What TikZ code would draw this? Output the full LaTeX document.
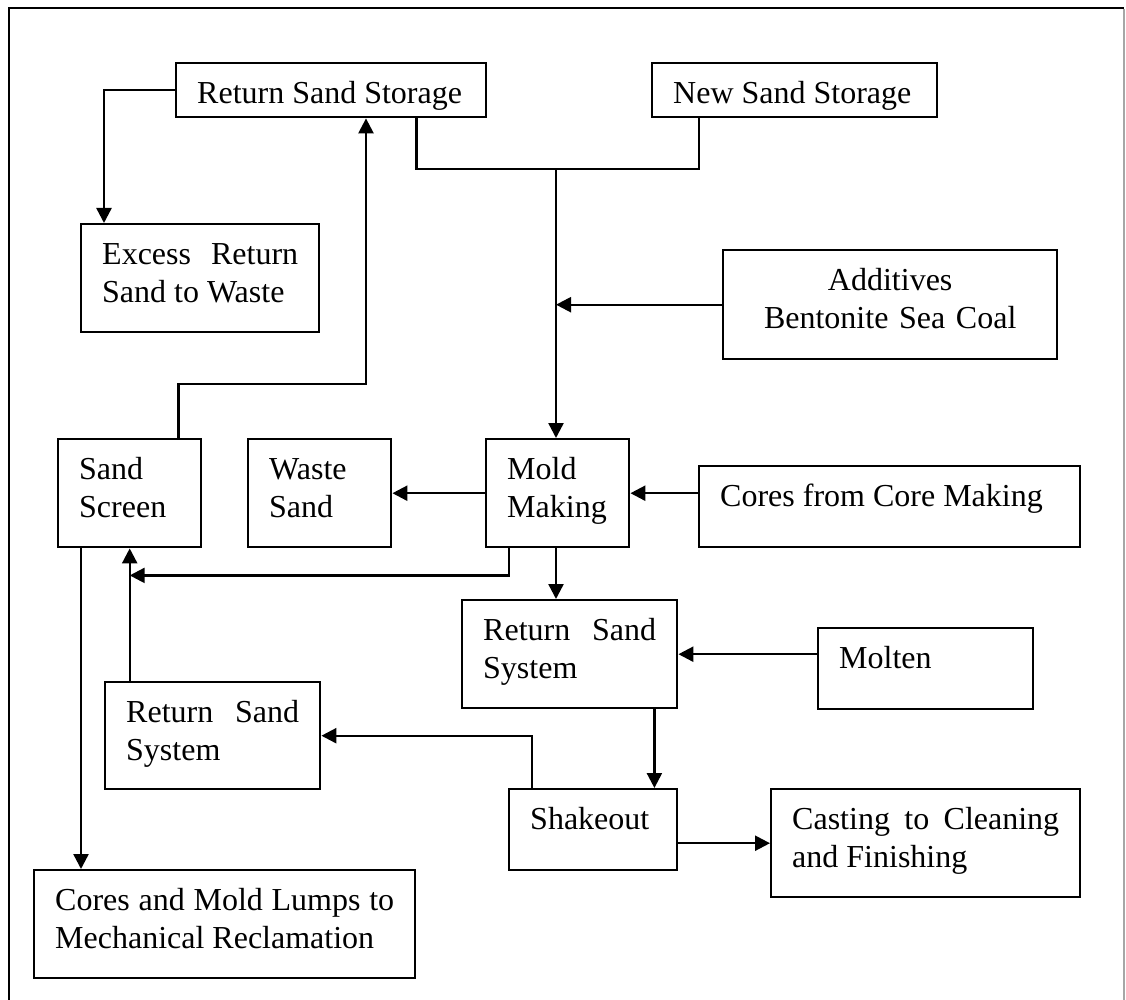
\documentclass[tikz,border=0pt]{standalone}
\usepackage{fontspec}
\setmainfont{Liberation Serif}
\usetikzlibrary{arrows.meta}

\begin{document}
\begin{tikzpicture}[
x=1pt, y=1pt,
stage/.style={
	draw=black, line width=2.4pt, rectangle,
	anchor=north west,
	inner xsep=21pt, inner ysep=0pt,
	align=justify, text height=40pt,
	font=\fontsize{32}{38}\selectfont,
},
flow/.style={draw, line width=2.4pt, -{Triangle[length=15pt,width=15pt]}},
link/.style={draw, line width=2.4pt},
]
\useasboundingbox (0,0) rectangle (1126,-1000);
% frame
\draw[line width=2pt] (9,-1000) |- (1124,-8);
\draw[line width=2pt, black!35] (1124,-9) -- (1124,-1000);

% storage
\node[stage, text width=268pt, text depth=14pt] (retstore) at (175,-62) {Return Sand Storage};
\node[stage, text width=243pt, text depth=14pt] (newstore) at (651,-62) {New Sand Storage};
\node[stage, text width=196pt, text depth=68pt] (excess) at (80,-223) {Excess Return Sand to Waste};
\node[stage, text width=292pt, text depth=69pt, align=center] (additives) at (722,-249) {Additives\\Bentonite Sea Coal};

% molding
\node[stage, text width=101pt, text depth=68pt] (screen) at (57,-438) {Sand Screen};
\node[stage, text width=101pt, text depth=68pt] (waste) at (247,-438) {Waste Sand};
\node[stage, text width=101pt, text depth=68pt] (mold) at (485,-438) {Mold Making};
\node[stage, text width=339pt, text depth=41pt] (cores) at (698,-465) {Cores from Core Making};

% pouring and shakeout
\node[stage, text width=173pt, text depth=68pt] (retsysA) at (461,-599) {Return Sand System};
\node[stage, text width=173pt, text depth=41pt] (molten) at (817,-627) {Molten};
\node[stage, text width=173pt, text depth=67pt] (retsysB) at (104,-681) {Return Sand System};
\node[stage, text width=126pt, text depth=41pt] (shakeout) at (508,-788) {Shakeout};
\node[stage, text width=267pt, text depth=68pt] (casting) at (770,-788) {Casting to Cleaning and Finishing};
\node[stage, text width=339pt, text depth=68pt] (lumps) at (33,-869) {Cores and Mold Lumps to Mechanical Reclamation};

\coordinate (mix) at (556,-169);

% connectors
\draw[flow] (retstore.west) -| ([xshift=24pt]excess.north west);
\draw[flow] ([xshift=-24pt]screen.north east) -- ++(0,54) -| ([xshift=191pt]retstore.south west);
\draw[link] ([xshift=-71pt]retstore.south east) |- (mix);
\draw[link] ([xshift=48pt]newstore.south west) |- (mix);
\draw[flow] (mix) -- (mix |- mold.north);
\draw[flow] (additives.west) -- (additives.west -| mix);
\draw[flow] (mold.west) -- (waste.east);
\draw[flow] (cores.west |- mold.east) -- (mold.east);
\draw[flow] ([xshift=24pt]mold.south west) |- ([yshift=-27pt]screen.south);
\draw[flow] (retsysB.north -| screen.south) -- (screen.south);
\draw[flow] (mix |- mold.south) -- (mix |- retsysA.north);
\draw[flow] (molten.west |- retsysA.east) -- (retsysA.east);
\draw[flow] ([xshift=-24pt]retsysA.south east) -- ([xshift=-24pt]retsysA.south east |- shakeout.north);
\draw[flow] ([xshift=24pt]shakeout.north west) |- (retsysB.east);
\draw[flow] (shakeout.east |- casting.west) -- (casting.west);
\draw[flow] ([xshift=24pt]screen.south west) -- ([xshift=24pt]screen.south west |- lumps.north);
\end{tikzpicture}
\end{document}
